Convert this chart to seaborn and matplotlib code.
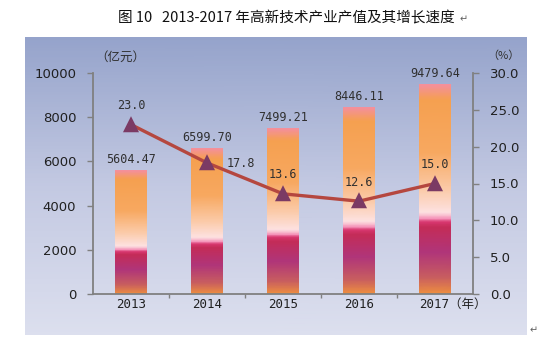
import numpy as np
import pandas as pd
import matplotlib
matplotlib.use("Agg")
import matplotlib.pyplot as plt
import matplotlib.transforms as mtransforms
import seaborn as sns
from matplotlib.colors import LinearSegmentedColormap
from matplotlib.ticker import FixedLocator

years = ["2013", "2014", "2015", "2016", "2017"]
output_value = [5604.47, 6599.70, 7499.21, 8446.11, 9479.64]
growth = [23.0, 17.8, 13.6, 12.6, 15.0]
left_ticks = [0, 2000, 4000, 6000, 8000, 10000]
right_ticks = [0.0, 5.0, 10.0, 15.0, 20.0, 25.0, 30.0]
title = "图 10   2013-2017 年高新技术产业产值及其增长速度"

sns.set_theme(style="white")
plt.rcParams['font.family'] = ['DejaVu Sans', 'Noto Sans CJK SC']
CJK = ['Noto Sans CJK SC', 'DejaVu Sans']
MONO = ['DejaVu Sans Mono', 'Noto Sans CJK SC']

fig = plt.figure(figsize=(5.53, 3.44), dpi=100)
W, H = 553, 344

# panel background gradient
bg = fig.add_axes([25 / W, (H - 335) / H, (527 - 25) / W, (335 - 37) / H], zorder=-10)
bg_cmap = LinearSegmentedColormap.from_list("bg", ["#DCDFEE", "#C3C9E2", "#95A3CB"])
yy = np.linspace(0, 1, 60)
bg.pcolormesh([0, 1], yy, np.tile(yy.reshape(-1, 1), (1, 2)), cmap=bg_cmap, shading="gouraud")
bg.set_xlim(0, 1)
bg.set_ylim(0, 1)
bg.set_axis_off()

ax = fig.add_axes([93 / W, (H - 294) / H, (473 - 93) / W, (294 - 73) / H], zorder=1)
ax.set_facecolor("none")

df = pd.DataFrame({"year": years, "value": output_value, "growth": growth})
sns.barplot(data=df, x="year", y="value", ax=ax, width=0.41, color="#F5A050", saturation=1)

bar_cmap = LinearSegmentedColormap.from_list("bar", [
    (0.0, "#F09040"), (0.08, "#C85E60"), (0.2, "#B0357A"), (0.32, "#C42C58"),
    (0.345, "#D83870"), (0.36, "#F590B8"), (0.39, "#FDE2E2"), (0.5, "#FBCBAA"),
    (0.68, "#F7A860"), (0.93, "#F5A050"), (1.0, "#F4909C")])
fr = np.linspace(0, 1, 201)
for p in ax.patches:
    x0, y0 = p.get_x(), p.get_y()
    w, h = p.get_width(), p.get_height()
    p.set_edgecolor("none")
    mesh = ax.pcolormesh([x0, x0 + w], y0 + fr * h, np.tile(fr.reshape(-1, 1), (1, 2)),
                         cmap=bar_cmap, shading="gouraud", zorder=2)
    mesh.set_clip_path(p)
    ax.annotate(f"{h:.2f}", (x0 + w / 2, h), xytext=(0, 3), textcoords="offset points",
                ha="center", va="bottom", fontsize=8.5, family=MONO, color="#303030", zorder=5)

ax.set_ylim(0, 10000)
ax.set_xlim(-0.5, 4.5)
ax.set_yticks(left_ticks)
ax.set_yticklabels([str(t) for t in left_ticks], fontsize=9.5, color="#202020")
ax.set_xticks(range(len(years)))
xl = years[:-1] + [years[-1] + "（年）"]
ax.set_xticklabels(xl, fontsize=9, family=MONO, color="#202020")
ax.xaxis.set_minor_locator(FixedLocator([0.5, 1.5, 2.5, 3.5]))
ax.tick_params(axis="x", which="major", length=0, pad=3)
ax.tick_params(axis="x", which="minor", length=3, width=1, color="#808080", bottom=True)
ax.tick_params(axis="y", length=4, width=1, color="#808080", left=True, pad=8)
ax.set_xlabel("")
ax.set_ylabel("")
for s in ["top", "right"]:
    ax.spines[s].set_visible(False)
for s in ["left", "bottom"]:
    ax.spines[s].set_color("#808080")
    ax.spines[s].set_linewidth(1.3)
lbls = ax.get_xticklabels()
lbls[-1].set_horizontalalignment("left")
lbls[-1].set_transform(lbls[-1].get_transform() + mtransforms.ScaledTranslation(-16 / 100, 0, fig.dpi_scale_trans))

ax2 = ax.twinx()
ax2.set_facecolor("none")
sns.pointplot(data=df, x="year", y="growth", ax=ax2, color="#B5473F", markers="^",
              linewidth=2.4, markersize=8)
for ln in ax2.lines:
    ln.set_markerfacecolor("#7B3A64")
    ln.set_markeredgecolor("#7B3A64")
    ln.set_zorder(6)
ax2.set_ylim(0, 30)
ax2.set_xlim(-0.5, 4.5)
ax2.set_yticks(right_ticks)
ax2.set_yticklabels([f"{t:.1f}" for t in right_ticks], fontsize=9.5, color="#202020")
ax2.tick_params(axis="y", length=4, width=1, color="#808080", right=True, pad=8)
ax2.set_ylabel("")
ax2.set_xlabel("")
for s in ["top", "left", "bottom"]:
    ax2.spines[s].set_visible(False)
ax2.spines["right"].set_color("#808080")
ax2.spines["right"].set_linewidth(1.3)

offsets = [(0, 9), (14, -5), (0, 9), (0, 9), (0, 9)]
for i, (g, off) in enumerate(zip(growth, offsets)):
    ha = "center" if off[0] == 0 else "left"
    ax2.annotate(f"{g:.1f}", (i, g), xytext=off, textcoords="offset points",
                 ha=ha, va="bottom", fontsize=8.5, family=MONO, color="#303030", zorder=7)

fig.text(95 / W, (H - 57) / H, "（亿元）", ha="left", va="center", fontsize=9,
         family=CJK, color="#303030")
fig.text(487 / W, (H - 56) / H, "（%）", ha="left", va="center", fontsize=8,
         family=CJK, color="#303030")
fig.text(286 / W, (H - 18) / H, title, ha="center", va="center", fontsize=10.5,
         family=CJK, color="#101010")
fig.text(460 / W, (H - 19) / H, "↵", ha="left", va="center", fontsize=7, family=['DejaVu Sans'],
         color="#606060")
fig.text(530 / W, (H - 330) / H, "↵", ha="left", va="center", fontsize=7, family=['DejaVu Sans'],
         color="#606060")

fig.savefig("out.png", dpi=100)
